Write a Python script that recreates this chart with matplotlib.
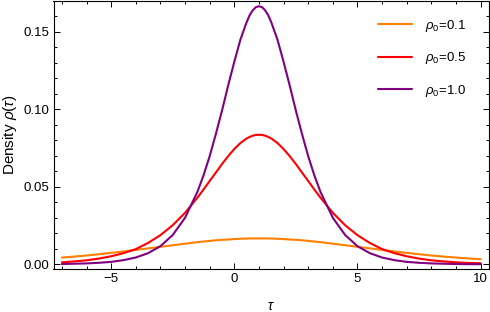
import matplotlib
matplotlib.use("Agg")
import matplotlib.pyplot as plt
import matplotlib.ticker as mticker

# Values; finer steps around the peak at tau = 1
tau = [-7.0, -6.5, -6.0, -5.5, -5.0, -4.5, -4.0, -3.5, -3.0, -2.5, -2.0, -1.5,
       -1.25, -1.0, -0.75, -0.5, -0.25, 0.0, 0.25, 0.5, 0.625, 0.75, 0.875,
       1.0, 1.125, 1.25, 1.375, 1.5,
       1.75, 2.0, 2.25, 2.5, 2.75, 3.0, 3.25,
       3.5, 4.0, 4.5, 5.0, 5.5, 6.0, 6.5, 7.0, 7.5, 8.0, 8.5, 9.0, 9.5, 10.0]

rho_01 = [0.0044, 0.0050, 0.0057, 0.0065, 0.0074, 0.0083, 0.0093, 0.0103,
          0.0113, 0.0123, 0.0133, 0.0143,
          0.0147, 0.0151, 0.0155, 0.0158, 0.0160, 0.0163, 0.0165, 0.0166,
          0.0167, 0.0167, 0.0167, 0.0167, 0.0167, 0.0167, 0.0167, 0.0166,
          0.0165, 0.0163, 0.0160, 0.0158, 0.0155, 0.0151, 0.0147,
          0.0143, 0.0133, 0.0123, 0.0113, 0.0103, 0.0093, 0.0083, 0.0074,
          0.0065, 0.0057, 0.0050, 0.0044, 0.0038, 0.0033]

rho_05 = [0.0013, 0.0019, 0.0026, 0.0037, 0.0052, 0.0072, 0.0098, 0.0138,
          0.0188, 0.0252, 0.0332, 0.0429,
          0.0482, 0.0537, 0.0591, 0.0646, 0.0697, 0.0743, 0.0782, 0.0811,
          0.0821, 0.0829, 0.0834, 0.0835, 0.0834, 0.0829, 0.0821, 0.0811,
          0.0782, 0.0743, 0.0697, 0.0646, 0.0591, 0.0537, 0.0482,
          0.0429, 0.0332, 0.0252, 0.0188, 0.0138, 0.0098, 0.0072, 0.0052,
          0.0037, 0.0026, 0.0019, 0.0013, 0.0009, 0.0007]

rho_10 = [0.0002, 0.0004, 0.0006, 0.0010, 0.0016, 0.0027, 0.0044, 0.0072,
          0.0117, 0.0189, 0.0300, 0.0466,
          0.0573, 0.0697, 0.0839, 0.0990, 0.1152, 0.1305, 0.1449, 0.1560,
          0.1606, 0.1637, 0.1657, 0.1663, 0.1657, 0.1637, 0.1606, 0.1560,
          0.1449, 0.1305, 0.1152, 0.0990, 0.0839, 0.0697, 0.0573,
          0.0466, 0.0300, 0.0189, 0.0117, 0.0072, 0.0044, 0.0027, 0.0016,
          0.0010, 0.0006, 0.0004, 0.0002, 0.0001, 0.0001]

labels = [r"$\rho_0$=0.1", r"$\rho_0$=0.5", r"$\rho_0$=1.0"]
colors = ["#FF8000", "#FF0000", "#800080"]

plt.rcParams.update({
    "font.family": ["Liberation Sans", "DejaVu Sans"],
    "mathtext.fontset": "custom",
    "mathtext.rm": "Liberation Sans",
    "mathtext.it": "Liberation Sans:italic",
    "font.size": 9.5,
})

fig = plt.figure(figsize=(4.9, 3.12), dpi=100)
ax = fig.add_axes([53.5 / 490, 43 / 312, (489 - 53.5) / 490, (312 - 0.5 - 43) / 312])

for ys, lab, c in zip([rho_01, rho_05, rho_10], labels, colors):
    ax.plot(tau, ys, color=c, linewidth=1.5, label=lab, solid_capstyle="round")

ax.set_xlim(-7.34, 10.34)
ax.set_ylim(-0.003, 0.170)

ax.xaxis.set_major_locator(mticker.MultipleLocator(5))
ax.xaxis.set_minor_locator(mticker.MultipleLocator(1))
ax.yaxis.set_major_locator(mticker.MultipleLocator(0.05))
ax.yaxis.set_minor_locator(mticker.MultipleLocator(0.01))
ax.yaxis.set_major_formatter(mticker.FormatStrFormatter("%.2f"))

ax.tick_params(which="both", direction="in", top=True, right=True, color="black",
               width=0.7, labelsize=9.5)
ax.tick_params(which="major", length=4.5, pad=3)
ax.tick_params(which="minor", length=2.5)
for s in ax.spines.values():
    s.set_linewidth(0.8)

ax.set_xlabel(r"$\tau$", labelpad=10, fontsize=10)
ax.set_ylabel(r"Density $\rho(\tau)$", labelpad=3, fontsize=11)

ax.legend(loc="upper right", bbox_to_anchor=(0.975, 0.98), frameon=False,
          handlelength=2.6, handletextpad=1.0, labelspacing=1.25, fontsize=9.5)

fig.savefig("out.png", dpi=100)
